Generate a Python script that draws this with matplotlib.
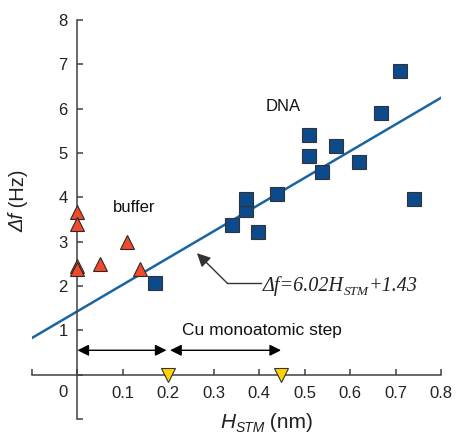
import matplotlib
matplotlib.use("Agg")
import matplotlib.pyplot as plt
import numpy as np

plt.rcParams['font.family'] = ['Liberation Sans', 'DejaVu Sans']
plt.rcParams['mathtext.fontset'] = 'custom'
plt.rcParams['mathtext.it'] = 'Liberation Sans:italic'
plt.rcParams['mathtext.rm'] = 'Liberation Sans'

# Data
buffer_x = [0.0, 0.0, 0.0, 0.0, 0.05, 0.11, 0.138]
buffer_y = [3.68, 3.39, 2.46, 2.38, 2.49, 2.99, 2.38]
dna_x = [0.171, 0.341, 0.398, 0.37, 0.37, 0.44, 0.51, 0.51, 0.539, 0.569, 0.62, 0.668, 0.71, 0.74]
dna_y = [2.06, 3.37, 3.22, 3.71, 3.96, 4.07, 4.93, 5.41, 4.57, 5.16, 4.80, 5.90, 6.85, 3.96]
step_x = [0.2, 0.448]
step_y = [0.0, 0.0]
fit_slope = 6.02
fit_intercept = 1.43
xticks = [-0.1, 0.0, 0.1, 0.2, 0.3, 0.4, 0.5, 0.6, 0.7, 0.8]
xticklabels = ['', '', '0.1', '0.2', '0.3', '0.4', '0.5', '0.6', '0.7', '0.8']
yticks = [-1, 0, 1, 2, 3, 4, 5, 6, 7, 8]
yticklabels = ['', '', '1', '2', '3', '4', '5', '6', '7', '8']

fig = plt.figure(figsize=(4.57, 4.37), dpi=100)
ax = fig.add_axes([32/457, 18/437, 409/457, 399/437])
ax.set_xlim(-0.1, 0.8)
ax.set_ylim(-1, 8)

spc = '#404040'
for s in ['top', 'right']:
    ax.spines[s].set_visible(False)
ax.spines['left'].set_position(('data', 0))
ax.spines['bottom'].set_position(('data', 0))
for s in ['left', 'bottom']:
    ax.spines[s].set_color(spc)
    ax.spines[s].set_linewidth(1.1)
ax.tick_params(direction='in', length=4, width=1.1, color=spc, labelsize=12, labelcolor='#222222')
ax.tick_params(axis='y', pad=7)
ax.tick_params(axis='x', pad=8)
ax.set_xticks(xticks)
ax.set_xticklabels(xticklabels)
ax.set_yticks(yticks)
ax.set_yticklabels(yticklabels)
ax.text(-0.032, -0.4, '0', fontsize=12, color='#222222', ha='center', va='center')

# Fit line
xl = np.array([-0.1, 0.8])
ax.plot(xl, fit_slope * xl + fit_intercept, color='#1A64A0', lw=1.8, zorder=2)

ax.plot(buffer_x, buffer_y, '^', ms=10.5, mfc='#F04A2A', mec='#2a2a2a', mew=0.8, ls='none', zorder=3, clip_on=False)
ax.plot(dna_x, dna_y, 's', ms=9.5, mfc='#0D4A8C', mec='#333333', mew=0.8, ls='none', zorder=3)
ax.plot(step_x, step_y, 'v', ms=10.5, mfc='#FFD200', mec='#333333', mew=0.8, ls='none', zorder=4, clip_on=False)

# Double arrows for step
ap = dict(arrowstyle='<|-|>', color='black', lw=1.0, mutation_scale=17, shrinkA=0, shrinkB=0)
ax.annotate('', xy=(0.0, 0.55), xytext=(0.196, 0.55), arrowprops=ap)
ax.annotate('', xy=(0.204, 0.55), xytext=(0.448, 0.55), arrowprops=ap)
ax.text(0.405, 1.0, 'Cu monoatomic step', fontsize=12.5, ha='center', va='center', color='#111111')

ax.text(0.453, 6.04, 'DNA', fontsize=12, ha='center', va='center', color='#111111')
ax.text(0.124, 3.78, 'buffer', fontsize=12, ha='center', va='center', color='#111111')

# Equation annotation
ax.plot([0.33, 0.405], [2.06, 2.06], color='#333333', lw=1.0)
ax.annotate('', xy=(0.263, 2.74), xytext=(0.33, 2.06),
            arrowprops=dict(arrowstyle='-|>', color='#333333', lw=1.0, mutation_scale=20, shrinkA=0, shrinkB=0))
serif = dict(family=['Liberation Serif', 'DejaVu Serif'], style='italic', color='#222222')
t1 = ax.text(0.407, 1.88, 'Δf=6.02H', fontsize=14.5, ha='left', va='baseline', **serif)
t2 = ax.annotate('STM', xy=(1, 0), xycoords=t1, xytext=(0, -1), textcoords='offset points',
                 fontsize=9.5, ha='left', va='bottom', **serif)
t3 = ax.annotate('+1.43', xy=(1, 0), xycoords=(t2, t1), xytext=(0, 0), textcoords='offset points',
                 fontsize=14.5, ha='left', va='bottom', **serif)

# Axis labels
ylab1 = fig.text(18/457, 229/437 * 0 + (1 - 232/437), 'Δf', rotation=90, fontsize=14.5, style='italic',
                 ha='center', va='bottom', color='#222222')
fig.text(18/457, 1 - 232/437 + 0.0, '', fontsize=1)
ax.annotate(' (Hz)', xy=(0, 1), xycoords=ylab1, rotation=90, fontsize=14.5,
            ha='left', va='bottom', color='#222222', annotation_clip=False)
xlab1 = fig.text(220/457, 1 - 428/437, 'H', fontsize=15, style='italic', ha='left', va='baseline', color='#222222')
xlab2 = ax.annotate('STM', xy=(1, 0), xycoords=xlab1, xytext=(0, -2), textcoords='offset points',
                    fontsize=10, style='italic', ha='left', va='bottom', color='#222222', annotation_clip=False)
ax.annotate(' (nm)', xy=(1, 0), xycoords=(xlab2, xlab1), fontsize=15, ha='left', va='bottom',
            color='#222222', annotation_clip=False)

fig.savefig('out.png', dpi=100)
